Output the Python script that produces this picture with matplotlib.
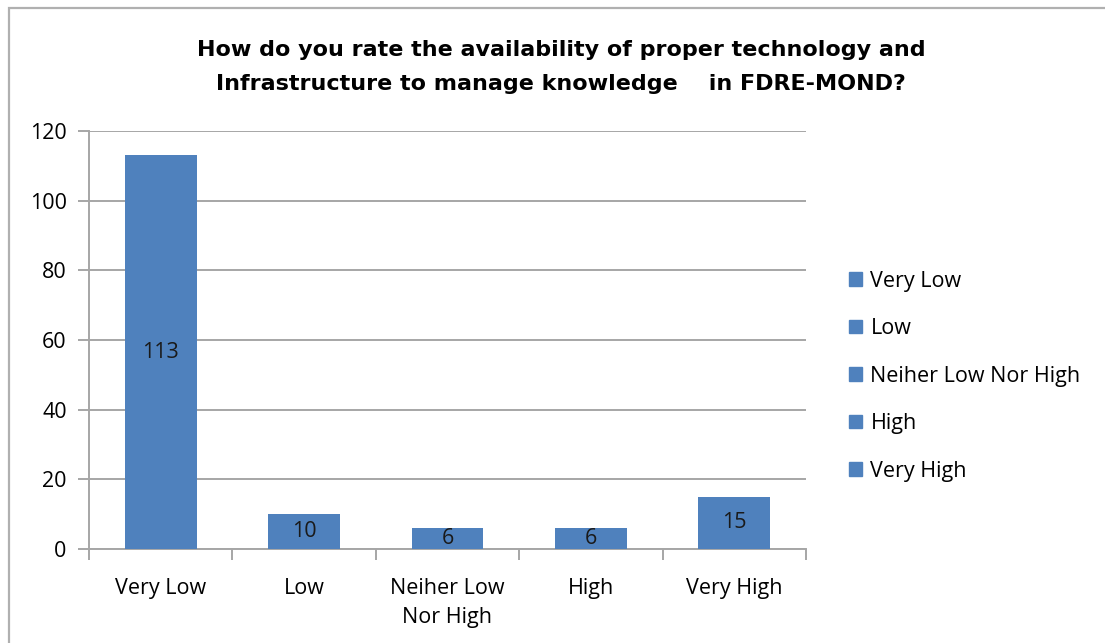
import numpy as np
import matplotlib.pyplot as plt
from matplotlib.patches import Patch, Rectangle

plt.rcParams['font.family'] = ['Open Sans', 'DejaVu Sans']

categories = ['Very Low', 'Low', 'Neiher Low\nNor High', 'High', 'Very High']
legend_names = ['Very Low', 'Low', 'Neiher Low Nor High', 'High', 'Very High']
counts = [113, 10, 6, 6, 15]
bar_color = '#4F81BD'
grid_color = '#A6A6A6'
fs = 15.5

fig = plt.figure(figsize=(11.05, 6.43), dpi=100)
ax = fig.add_axes([0.0805, 0.1462, 0.6489, 0.6501])

x = np.arange(len(categories))
bars = ax.bar(x, counts, width=0.5, color=bar_color, zorder=3)
ax.bar_label(bars, labels=[str(c) for c in counts], label_type='center',
             fontsize=fs, color='#1a1a1a')

ax.set_xlim(-0.5, len(categories) - 0.5)
ax.set_ylim(0, 120)
ax.set_yticks(np.arange(0, 121, 20))
ax.yaxis.grid(True, color=grid_color, linewidth=1.4, zorder=0)
ax.set_axisbelow(True)

# category labels at centres, tick marks at boundaries
ax.set_xticks(x)
ax.set_xticklabels(categories, fontsize=fs, linespacing=1.5)
ax.tick_params(axis='x', length=0, pad=21)
ax.set_xticks(np.arange(-0.5, len(categories)), minor=True)
ax.tick_params(axis='x', which='minor', length=8, color=grid_color, width=1.4)
ax.tick_params(axis='y', length=8, color=grid_color, width=1.4, labelsize=fs, pad=8)

for s in ['top', 'right']:
    ax.spines[s].set_visible(False)
for s in ['left', 'bottom']:
    ax.spines[s].set_color(grid_color)
    ax.spines[s].set_linewidth(1.4)

fig.text(0.508, 0.896,
         'How do you rate the availability of proper technology and\n'
         'Infrastructure to manage knowledge    in FDRE-MOND?',
         ha='center', va='center', fontsize=16, fontweight='bold',
         family='DejaVu Sans', linespacing=1.85)

handles = [Patch(facecolor=bar_color, edgecolor=bar_color) for _ in legend_names]
fig.legend(handles, legend_names, loc='center left',
           bbox_to_anchor=(0.7585, 0.415), frameon=False, fontsize=fs,
           handlelength=0.6, handleheight=0.6, handletextpad=0.4,
           labelspacing=1.23, borderpad=0)

# outer chart frame
fig.patches.append(Rectangle((9 / 1105, -0.05), 1.2, 1 - 8 / 643 + 0.05,
                             transform=fig.transFigure, fill=False,
                             edgecolor='#B0B0B0', linewidth=1.6))

fig.savefig('out.png', dpi=100)
